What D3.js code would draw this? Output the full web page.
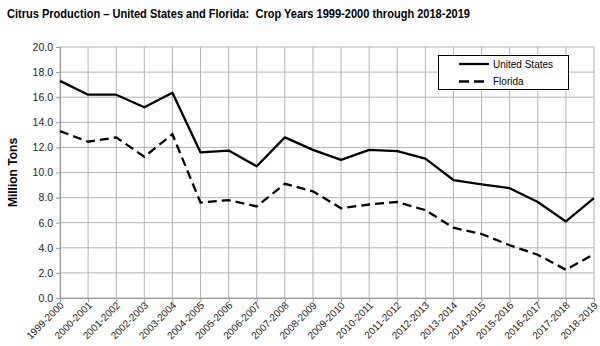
<!DOCTYPE html>
<html><head><meta charset="utf-8">
<script src="https://cdn.jsdelivr.net/npm/d3@7"></script>
<style>body{margin:0;background:#fff}svg{display:block}text{font-family:"Liberation Sans",Arial,sans-serif}</style>
</head><body><svg id="c" width="600" height="346"></svg>
<script>
const categories = ["1999-2000","2000-2001","2001-2002","2002-2003","2003-2004","2004-2005","2005-2006","2006-2007","2007-2008","2008-2009","2009-2010","2010-2011","2011-2012","2012-2013","2013-2014","2014-2015","2015-2016","2016-2017","2017-2018","2018-2019"];
const unitedStates = [17.3,16.2,16.2,15.2,16.35,11.6,11.75,10.5,12.8,11.8,11.0,11.8,11.7,11.1,9.4,9.05,8.75,7.65,6.1,7.95];
const florida = [13.3,12.45,12.8,11.25,13.05,7.6,7.8,7.3,9.1,8.5,7.15,7.45,7.65,7.0,5.6,5.1,4.2,3.45,2.25,3.5];
const yTicks = [0,2,4,6,8,10,12,14,16,18,20];
const seriesNames = ["United States","Florida"];

const svg = d3.select("#c");
const L=60,R=594,T=47,B=298;
const x = d3.scalePoint().domain(categories).range([L,R]);
const y = d3.scaleLinear().domain([0,20]).range([B,T]);

svg.append("text").attr("x",7).attr("y",18).attr("font-weight","bold").attr("font-size",12.4)
  .attr("textLength",463).attr("lengthAdjust","spacingAndGlyphs").style("white-space","pre")
  .text("Citrus Production \u2013 United States and Florida:  Crop Years 1999-2000 through 2018-2019");

// grid
svg.append("g").selectAll("line").data(yTicks).join("line")
  .attr("x1",L).attr("x2",R).attr("y1",d=>y(d)).attr("y2",d=>y(d))
  .attr("stroke","#b3b3b3").attr("stroke-width",1);
svg.append("g").selectAll("line").data(categories).join("line")
  .attr("x1",d=>x(d)).attr("x2",d=>x(d)).attr("y1",T).attr("y2",B)
  .attr("stroke","#b3b3b3").attr("stroke-width",1);

// axes
const ya = svg.append("g").attr("transform",`translate(${L},0)`)
  .call(d3.axisLeft(y).tickValues(yTicks).tickFormat(d3.format(".1f")).tickSize(4).tickPadding(3));
ya.select(".domain").attr("stroke","#999");
ya.selectAll(".tick line").attr("stroke","#999");
ya.selectAll("text").attr("font-size",10.5).attr("fill","#222").style("font-family","'Liberation Sans',Arial,sans-serif");

const xa = svg.append("g").attr("transform",`translate(0,${B})`)
  .call(d3.axisBottom(x).tickSize(4).tickPadding(2));
xa.select(".domain").attr("stroke","#999");
xa.selectAll(".tick line").attr("stroke","#999");
xa.selectAll("text").attr("font-size",10).attr("fill","#222").style("font-family","'Liberation Sans',Arial,sans-serif")
  .attr("text-anchor","end").attr("dy",null).attr("y",0).attr("x",0)
  .attr("transform","translate(4,8) rotate(-45)");

svg.append("text").attr("transform",`translate(17,${(T+B)/2}) rotate(-90)`)
  .attr("text-anchor","middle").attr("font-weight","bold").attr("font-size",12).text("Million Tons");

const line = d3.line().x((d,i)=>x(categories[i])).y(d=>y(d));
svg.append("path").datum(unitedStates).attr("d",line).attr("fill","none").attr("stroke","#000").attr("stroke-width",2.3).attr("stroke-linejoin","round");
svg.append("path").datum(florida).attr("d",line).attr("fill","none").attr("stroke","#000").attr("stroke-width",2.3).attr("stroke-dasharray","9,5");

// legend
const lg = svg.append("g");
lg.append("rect").attr("x",438.5).attr("y",55.5).attr("width",130).attr("height",34).attr("fill","#fff").attr("stroke","#000").attr("stroke-width",1);
seriesNames.forEach((n,i)=>{
  const yy = 64 + i*17.5;
  lg.append("line").attr("x1",459).attr("x2",489).attr("y1",yy).attr("y2",yy).attr("stroke","#000").attr("stroke-width",2.3)
    .attr("stroke-dasharray", i===1 ? "10,5" : null);
  lg.append("text").attr("x",493).attr("y",yy+3.5).attr("font-size",10).text(n);
});
</script></body></html>
